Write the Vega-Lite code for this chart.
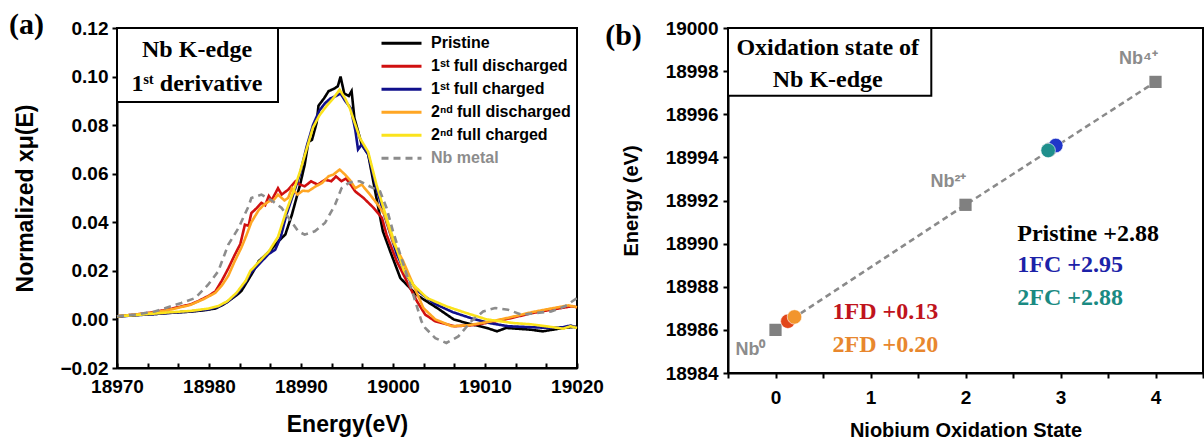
{
  "$schema": "https://vega.github.io/schema/vega-lite/v6.json",
  "background": "white",
  "autosize": {"type": "pad"},
  "padding": {"left": 7, "top": 9, "right": 0, "bottom": 0},
  "spacing": 151,
  "bounds": "flush",
  "resolve": {"scale": {"color": "independent", "strokeDash": "independent"}, "legend": {"color": "independent", "strokeDash": "independent"}},
  "config": {
    "view": {"stroke": "black", "strokeWidth": 2},
    "axis": {"grid": false, "domainColor": "black", "domainWidth": 2, "tickColor": "black", "tickWidth": 2, "tickSize": 5, "labelColor": "black", "titleColor": "black", "labelFont": "Liberation Sans", "labelFontWeight": "bold", "titleFont": "Liberation Sans", "titleFontWeight": "bold", "labelFlush": false, "labelOverlap": false}
  },
  "datasets": {
    "curves": [
      {"series": "Pristine", "energy": 18970, "mu": 0.0012},
      {"series": "Pristine", "energy": 18972, "mu": 0.0018},
      {"series": "Pristine", "energy": 18974, "mu": 0.0022},
      {"series": "Pristine", "energy": 18976, "mu": 0.0028},
      {"series": "Pristine", "energy": 18978, "mu": 0.0032},
      {"series": "Pristine", "energy": 18979.5, "mu": 0.0038},
      {"series": "Pristine", "energy": 18980.7, "mu": 0.0045},
      {"series": "Pristine", "energy": 18981.5, "mu": 0.006},
      {"series": "Pristine", "energy": 18982.1, "mu": 0.0075},
      {"series": "Pristine", "energy": 18983, "mu": 0.01},
      {"series": "Pristine", "energy": 18983.5, "mu": 0.0116},
      {"series": "Pristine", "energy": 18984.3, "mu": 0.0165},
      {"series": "Pristine", "energy": 18985, "mu": 0.021},
      {"series": "Pristine", "energy": 18985.4, "mu": 0.024},
      {"series": "Pristine", "energy": 18986, "mu": 0.026},
      {"series": "Pristine", "energy": 18986.8, "mu": 0.029},
      {"series": "Pristine", "energy": 18987.5, "mu": 0.032},
      {"series": "Pristine", "energy": 18988.3, "mu": 0.035},
      {"series": "Pristine", "energy": 18989.0, "mu": 0.043},
      {"series": "Pristine", "energy": 18989.9, "mu": 0.0555},
      {"series": "Pristine", "energy": 18990.4, "mu": 0.0637},
      {"series": "Pristine", "energy": 18990.8, "mu": 0.073},
      {"series": "Pristine", "energy": 18991.2, "mu": 0.074},
      {"series": "Pristine", "energy": 18991.7, "mu": 0.081},
      {"series": "Pristine", "energy": 18991.9, "mu": 0.088},
      {"series": "Pristine", "energy": 18992.5, "mu": 0.091},
      {"series": "Pristine", "energy": 18993.0, "mu": 0.094},
      {"series": "Pristine", "energy": 18993.6, "mu": 0.095},
      {"series": "Pristine", "energy": 18994.0, "mu": 0.096},
      {"series": "Pristine", "energy": 18994.3, "mu": 0.1},
      {"series": "Pristine", "energy": 18994.7, "mu": 0.093},
      {"series": "Pristine", "energy": 18995.2, "mu": 0.092},
      {"series": "Pristine", "energy": 18995.5, "mu": 0.094},
      {"series": "Pristine", "energy": 18995.8, "mu": 0.083},
      {"series": "Pristine", "energy": 18996.6, "mu": 0.072},
      {"series": "Pristine", "energy": 18997.3, "mu": 0.068},
      {"series": "Pristine", "energy": 18998.2, "mu": 0.05},
      {"series": "Pristine", "energy": 18998.9, "mu": 0.0363},
      {"series": "Pristine", "energy": 18999.7, "mu": 0.028},
      {"series": "Pristine", "energy": 19000.8, "mu": 0.017},
      {"series": "Pristine", "energy": 19002.6, "mu": 0.01},
      {"series": "Pristine", "energy": 19004.8, "mu": 0.0047},
      {"series": "Pristine", "energy": 19006.6, "mu": 0.0},
      {"series": "Pristine", "energy": 19008, "mu": -0.0015},
      {"series": "Pristine", "energy": 19010.2, "mu": -0.0035},
      {"series": "Pristine", "energy": 19011.3, "mu": -0.0049},
      {"series": "Pristine", "energy": 19012.3, "mu": -0.0035},
      {"series": "Pristine", "energy": 19014.9, "mu": -0.0042},
      {"series": "Pristine", "energy": 19016.3, "mu": -0.0049},
      {"series": "Pristine", "energy": 19018.5, "mu": -0.0035},
      {"series": "Pristine", "energy": 19020, "mu": -0.003},

      {"series": "1ˢᵗ full discharged", "energy": 18970, "mu": 0.0013},
      {"series": "1ˢᵗ full discharged", "energy": 18972, "mu": 0.002},
      {"series": "1ˢᵗ full discharged", "energy": 18974, "mu": 0.003},
      {"series": "1ˢᵗ full discharged", "energy": 18976, "mu": 0.0045},
      {"series": "1ˢᵗ full discharged", "energy": 18978, "mu": 0.0062},
      {"series": "1ˢᵗ full discharged", "energy": 18978.8, "mu": 0.0075},
      {"series": "1ˢᵗ full discharged", "energy": 18980, "mu": 0.0098},
      {"series": "1ˢᵗ full discharged", "energy": 18980.7, "mu": 0.0116},
      {"series": "1ˢᵗ full discharged", "energy": 18981.4, "mu": 0.016},
      {"series": "1ˢᵗ full discharged", "energy": 18982.1, "mu": 0.021},
      {"series": "1ˢᵗ full discharged", "energy": 18982.8, "mu": 0.0266},
      {"series": "1ˢᵗ full discharged", "energy": 18983.4, "mu": 0.031},
      {"series": "1ˢᵗ full discharged", "energy": 18983.9, "mu": 0.039},
      {"series": "1ˢᵗ full discharged", "energy": 18984.3, "mu": 0.0385},
      {"series": "1ˢᵗ full discharged", "energy": 18984.6, "mu": 0.0438},
      {"series": "1ˢᵗ full discharged", "energy": 18985.2, "mu": 0.0459},
      {"series": "1ˢᵗ full discharged", "energy": 18985.7, "mu": 0.048},
      {"series": "1ˢᵗ full discharged", "energy": 18986.1, "mu": 0.047},
      {"series": "1ˢᵗ full discharged", "energy": 18986.5, "mu": 0.0508},
      {"series": "1ˢᵗ full discharged", "energy": 18986.8, "mu": 0.049},
      {"series": "1ˢᵗ full discharged", "energy": 18987.5, "mu": 0.054},
      {"series": "1ˢᵗ full discharged", "energy": 18987.9, "mu": 0.0514},
      {"series": "1ˢᵗ full discharged", "energy": 18988.6, "mu": 0.0534},
      {"series": "1ˢᵗ full discharged", "energy": 18989.4, "mu": 0.0569},
      {"series": "1ˢᵗ full discharged", "energy": 18989.9, "mu": 0.0555},
      {"series": "1ˢᵗ full discharged", "energy": 18990.4, "mu": 0.0548},
      {"series": "1ˢᵗ full discharged", "energy": 18991.1, "mu": 0.0569},
      {"series": "1ˢᵗ full discharged", "energy": 18991.8, "mu": 0.0555},
      {"series": "1ˢᵗ full discharged", "energy": 18992.6, "mu": 0.0575},
      {"series": "1ˢᵗ full discharged", "energy": 18993.3, "mu": 0.0569},
      {"series": "1ˢᵗ full discharged", "energy": 18993.8, "mu": 0.0589},
      {"series": "1ˢᵗ full discharged", "energy": 18994.4, "mu": 0.0569},
      {"series": "1ˢᵗ full discharged", "energy": 18994.9, "mu": 0.058},
      {"series": "1ˢᵗ full discharged", "energy": 18995.4, "mu": 0.0555},
      {"series": "1ˢᵗ full discharged", "energy": 18995.9, "mu": 0.0527},
      {"series": "1ˢᵗ full discharged", "energy": 18996.8, "mu": 0.05},
      {"series": "1ˢᵗ full discharged", "energy": 18997.9, "mu": 0.0459},
      {"series": "1ˢᵗ full discharged", "energy": 18998.8, "mu": 0.0418},
      {"series": "1ˢᵗ full discharged", "energy": 18999.3, "mu": 0.0349},
      {"series": "1ˢᵗ full discharged", "energy": 19000.4, "mu": 0.024},
      {"series": "1ˢᵗ full discharged", "energy": 19001.5, "mu": 0.0157},
      {"series": "1ˢᵗ full discharged", "energy": 19002.6, "mu": 0.0075},
      {"series": "1ˢᵗ full discharged", "energy": 19003.5, "mu": 0.002},
      {"series": "1ˢᵗ full discharged", "energy": 19004.6, "mu": -0.0008},
      {"series": "1ˢᵗ full discharged", "energy": 19006.7, "mu": -0.0028},
      {"series": "1ˢᵗ full discharged", "energy": 19008.6, "mu": -0.0024},
      {"series": "1ˢᵗ full discharged", "energy": 19010.7, "mu": -0.0011},
      {"series": "1ˢᵗ full discharged", "energy": 19012.9, "mu": 0.0006},
      {"series": "1ˢᵗ full discharged", "energy": 19015.1, "mu": 0.0026},
      {"series": "1ˢᵗ full discharged", "energy": 19017.2, "mu": 0.004},
      {"series": "1ˢᵗ full discharged", "energy": 19019.4, "mu": 0.0054},
      {"series": "1ˢᵗ full discharged", "energy": 19020, "mu": 0.005},

      {"series": "1ˢᵗ full charged", "energy": 18970, "mu": 0.0012},
      {"series": "1ˢᵗ full charged", "energy": 18974, "mu": 0.0022},
      {"series": "1ˢᵗ full charged", "energy": 18978, "mu": 0.0033},
      {"series": "1ˢᵗ full charged", "energy": 18980, "mu": 0.0042},
      {"series": "1ˢᵗ full charged", "energy": 18981, "mu": 0.0052},
      {"series": "1ˢᵗ full charged", "energy": 18982, "mu": 0.0072},
      {"series": "1ˢᵗ full charged", "energy": 18983, "mu": 0.0105},
      {"series": "1ˢᵗ full charged", "energy": 18984, "mu": 0.0155},
      {"series": "1ˢᵗ full charged", "energy": 18984.5, "mu": 0.019},
      {"series": "1ˢᵗ full charged", "energy": 18985.5, "mu": 0.023},
      {"series": "1ˢᵗ full charged", "energy": 18986.5, "mu": 0.027},
      {"series": "1ˢᵗ full charged", "energy": 18987.2, "mu": 0.0287},
      {"series": "1ˢᵗ full charged", "energy": 18987.8, "mu": 0.034},
      {"series": "1ˢᵗ full charged", "energy": 18988.4, "mu": 0.043},
      {"series": "1ˢᵗ full charged", "energy": 18989.2, "mu": 0.052},
      {"series": "1ˢᵗ full charged", "energy": 18989.9, "mu": 0.06},
      {"series": "1ˢᵗ full charged", "energy": 18990.6, "mu": 0.071},
      {"series": "1ˢᵗ full charged", "energy": 18991.3, "mu": 0.08},
      {"series": "1ˢᵗ full charged", "energy": 18992, "mu": 0.086},
      {"series": "1ˢᵗ full charged", "energy": 18992.6, "mu": 0.089},
      {"series": "1ˢᵗ full charged", "energy": 18993.2, "mu": 0.091},
      {"series": "1ˢᵗ full charged", "energy": 18993.8, "mu": 0.092},
      {"series": "1ˢᵗ full charged", "energy": 18994.3, "mu": 0.093},
      {"series": "1ˢᵗ full charged", "energy": 18994.8, "mu": 0.09},
      {"series": "1ˢᵗ full charged", "energy": 18995.4, "mu": 0.087},
      {"series": "1ˢᵗ full charged", "energy": 18995.9, "mu": 0.078},
      {"series": "1ˢᵗ full charged", "energy": 18996.2, "mu": 0.07},
      {"series": "1ˢᵗ full charged", "energy": 18996.6, "mu": 0.072},
      {"series": "1ˢᵗ full charged", "energy": 18997.3, "mu": 0.068},
      {"series": "1ˢᵗ full charged", "energy": 18998.2, "mu": 0.054},
      {"series": "1ˢᵗ full charged", "energy": 18999.3, "mu": 0.04},
      {"series": "1ˢᵗ full charged", "energy": 19000.4, "mu": 0.027},
      {"series": "1ˢᵗ full charged", "energy": 19001.5, "mu": 0.018},
      {"series": "1ˢᵗ full charged", "energy": 19002.6, "mu": 0.012},
      {"series": "1ˢᵗ full charged", "energy": 19004.5, "mu": 0.0065},
      {"series": "1ˢᵗ full charged", "energy": 19006.5, "mu": 0.003},
      {"series": "1ˢᵗ full charged", "energy": 19008.5, "mu": 0.0005},
      {"series": "1ˢᵗ full charged", "energy": 19010.5, "mu": -0.0015},
      {"series": "1ˢᵗ full charged", "energy": 19012.5, "mu": -0.0028},
      {"series": "1ˢᵗ full charged", "energy": 19015, "mu": -0.0032},
      {"series": "1ˢᵗ full charged", "energy": 19017, "mu": -0.0035},
      {"series": "1ˢᵗ full charged", "energy": 19018.5, "mu": -0.0032},
      {"series": "1ˢᵗ full charged", "energy": 19019.3, "mu": -0.0025},
      {"series": "1ˢᵗ full charged", "energy": 19020, "mu": -0.0035},

      {"series": "2ⁿᵈ full discharged", "energy": 18970, "mu": 0.0013},
      {"series": "2ⁿᵈ full discharged", "energy": 18972, "mu": 0.002},
      {"series": "2ⁿᵈ full discharged", "energy": 18974, "mu": 0.0028},
      {"series": "2ⁿᵈ full discharged", "energy": 18976, "mu": 0.0042},
      {"series": "2ⁿᵈ full discharged", "energy": 18978, "mu": 0.006},
      {"series": "2ⁿᵈ full discharged", "energy": 18979.5, "mu": 0.0085},
      {"series": "2ⁿᵈ full discharged", "energy": 18980.7, "mu": 0.011},
      {"series": "2ⁿᵈ full discharged", "energy": 18981.4, "mu": 0.014},
      {"series": "2ⁿᵈ full discharged", "energy": 18982.1, "mu": 0.018},
      {"series": "2ⁿᵈ full discharged", "energy": 18982.8, "mu": 0.024},
      {"series": "2ⁿᵈ full discharged", "energy": 18983.5, "mu": 0.0294},
      {"series": "2ⁿᵈ full discharged", "energy": 18984, "mu": 0.034},
      {"series": "2ⁿᵈ full discharged", "energy": 18984.6, "mu": 0.04},
      {"series": "2ⁿᵈ full discharged", "energy": 18985.4, "mu": 0.045},
      {"series": "2ⁿᵈ full discharged", "energy": 18985.9, "mu": 0.047},
      {"series": "2ⁿᵈ full discharged", "energy": 18986.5, "mu": 0.0486},
      {"series": "2ⁿᵈ full discharged", "energy": 18987.0, "mu": 0.049},
      {"series": "2ⁿᵈ full discharged", "energy": 18987.5, "mu": 0.0514},
      {"series": "2ⁿᵈ full discharged", "energy": 18988.2, "mu": 0.049},
      {"series": "2ⁿᵈ full discharged", "energy": 18988.6, "mu": 0.05},
      {"series": "2ⁿᵈ full discharged", "energy": 18989.0, "mu": 0.054},
      {"series": "2ⁿᵈ full discharged", "energy": 18989.6, "mu": 0.0514},
      {"series": "2ⁿᵈ full discharged", "energy": 18990.2, "mu": 0.053},
      {"series": "2ⁿᵈ full discharged", "energy": 18990.8, "mu": 0.0528},
      {"series": "2ⁿᵈ full discharged", "energy": 18991.6, "mu": 0.0548},
      {"series": "2ⁿᵈ full discharged", "energy": 18992.3, "mu": 0.0562},
      {"series": "2ⁿᵈ full discharged", "energy": 18993.0, "mu": 0.059},
      {"series": "2ⁿᵈ full discharged", "energy": 18993.5, "mu": 0.0596},
      {"series": "2ⁿᵈ full discharged", "energy": 18994.2, "mu": 0.0617},
      {"series": "2ⁿᵈ full discharged", "energy": 18994.8, "mu": 0.0596},
      {"series": "2ⁿᵈ full discharged", "energy": 18995.3, "mu": 0.0575},
      {"series": "2ⁿᵈ full discharged", "energy": 18995.9, "mu": 0.054},
      {"series": "2ⁿᵈ full discharged", "energy": 18996.6, "mu": 0.0555},
      {"series": "2ⁿᵈ full discharged", "energy": 18997.5, "mu": 0.0514},
      {"series": "2ⁿᵈ full discharged", "energy": 18998.4, "mu": 0.047},
      {"series": "2ⁿᵈ full discharged", "energy": 18999.1, "mu": 0.043},
      {"series": "2ⁿᵈ full discharged", "energy": 19000.0, "mu": 0.032},
      {"series": "2ⁿᵈ full discharged", "energy": 19001.1, "mu": 0.024},
      {"series": "2ⁿᵈ full discharged", "energy": 19002.2, "mu": 0.0143},
      {"series": "2ⁿᵈ full discharged", "energy": 19003.3, "mu": 0.0047},
      {"series": "2ⁿᵈ full discharged", "energy": 19004.6, "mu": 0.0},
      {"series": "2ⁿᵈ full discharged", "energy": 19006.4, "mu": -0.0028},
      {"series": "2ⁿᵈ full discharged", "energy": 19008.2, "mu": -0.0024},
      {"series": "2ⁿᵈ full discharged", "energy": 19010.7, "mu": -0.0008},
      {"series": "2ⁿᵈ full discharged", "energy": 19012.9, "mu": 0.001},
      {"series": "2ⁿᵈ full discharged", "energy": 19015.1, "mu": 0.003},
      {"series": "2ⁿᵈ full discharged", "energy": 19017.2, "mu": 0.0045},
      {"series": "2ⁿᵈ full discharged", "energy": 19019.1, "mu": 0.0058},
      {"series": "2ⁿᵈ full discharged", "energy": 19020, "mu": 0.005},

      {"series": "2ⁿᵈ full charged", "energy": 18970, "mu": 0.0013},
      {"series": "2ⁿᵈ full charged", "energy": 18972, "mu": 0.0018},
      {"series": "2ⁿᵈ full charged", "energy": 18974, "mu": 0.0024},
      {"series": "2ⁿᵈ full charged", "energy": 18976, "mu": 0.003},
      {"series": "2ⁿᵈ full charged", "energy": 18978, "mu": 0.0035},
      {"series": "2ⁿᵈ full charged", "energy": 18980, "mu": 0.0045},
      {"series": "2ⁿᵈ full charged", "energy": 18981, "mu": 0.0055},
      {"series": "2ⁿᵈ full charged", "energy": 18982, "mu": 0.0075},
      {"series": "2ⁿᵈ full charged", "energy": 18983, "mu": 0.011},
      {"series": "2ⁿᵈ full charged", "energy": 18984, "mu": 0.016},
      {"series": "2ⁿᵈ full charged", "energy": 18984.5, "mu": 0.02},
      {"series": "2ⁿᵈ full charged", "energy": 18985.5, "mu": 0.024},
      {"series": "2ⁿᵈ full charged", "energy": 18986.5, "mu": 0.028},
      {"series": "2ⁿᵈ full charged", "energy": 18987.5, "mu": 0.034},
      {"series": "2ⁿᵈ full charged", "energy": 18988.4, "mu": 0.0446},
      {"series": "2ⁿᵈ full charged", "energy": 18989.2, "mu": 0.053},
      {"series": "2ⁿᵈ full charged", "energy": 18989.9, "mu": 0.061},
      {"series": "2ⁿᵈ full charged", "energy": 18990.6, "mu": 0.07},
      {"series": "2ⁿᵈ full charged", "energy": 18991.3, "mu": 0.079},
      {"series": "2ⁿᵈ full charged", "energy": 18992, "mu": 0.084},
      {"series": "2ⁿᵈ full charged", "energy": 18992.8, "mu": 0.088},
      {"series": "2ⁿᵈ full charged", "energy": 18993.5, "mu": 0.091},
      {"series": "2ⁿᵈ full charged", "energy": 18994.2, "mu": 0.0946},
      {"series": "2ⁿᵈ full charged", "energy": 18994.8, "mu": 0.091},
      {"series": "2ⁿᵈ full charged", "energy": 18995.3, "mu": 0.087},
      {"series": "2ⁿᵈ full charged", "energy": 18996.4, "mu": 0.0747},
      {"series": "2ⁿᵈ full charged", "energy": 18997.3, "mu": 0.069},
      {"series": "2ⁿᵈ full charged", "energy": 18998.2, "mu": 0.0555},
      {"series": "2ⁿᵈ full charged", "energy": 18999.3, "mu": 0.0418},
      {"series": "2ⁿᵈ full charged", "energy": 19000.4, "mu": 0.029},
      {"series": "2ⁿᵈ full charged", "energy": 19001.2, "mu": 0.02},
      {"series": "2ⁿᵈ full charged", "energy": 19002.2, "mu": 0.0143},
      {"series": "2ⁿᵈ full charged", "energy": 19003.7, "mu": 0.0088},
      {"series": "2ⁿᵈ full charged", "energy": 19005.8, "mu": 0.0054},
      {"series": "2ⁿᵈ full charged", "energy": 19008, "mu": 0.0026},
      {"series": "2ⁿᵈ full charged", "energy": 19010.2, "mu": 0.0},
      {"series": "2ⁿᵈ full charged", "energy": 19013.1, "mu": -0.0015},
      {"series": "2ⁿᵈ full charged", "energy": 19015, "mu": -0.002},
      {"series": "2ⁿᵈ full charged", "energy": 19017, "mu": -0.003},
      {"series": "2ⁿᵈ full charged", "energy": 19018.5, "mu": -0.0038},
      {"series": "2ⁿᵈ full charged", "energy": 19019.3, "mu": -0.0028},
      {"series": "2ⁿᵈ full charged", "energy": 19020, "mu": -0.0035},

      {"series": "Nb metal", "energy": 18970, "mu": 0.0013},
      {"series": "Nb metal", "energy": 18972, "mu": 0.002},
      {"series": "Nb metal", "energy": 18974.1, "mu": 0.0033},
      {"series": "Nb metal", "energy": 18977.0, "mu": 0.0068},
      {"series": "Nb metal", "energy": 18978.5, "mu": 0.0088},
      {"series": "Nb metal", "energy": 18979.9, "mu": 0.0143},
      {"series": "Nb metal", "energy": 18981.0, "mu": 0.0198},
      {"series": "Nb metal", "energy": 18982.1, "mu": 0.0308},
      {"series": "Nb metal", "energy": 18983.2, "mu": 0.0376},
      {"series": "Nb metal", "energy": 18984.3, "mu": 0.0466},
      {"series": "Nb metal", "energy": 18984.6, "mu": 0.05},
      {"series": "Nb metal", "energy": 18985.7, "mu": 0.0514},
      {"series": "Nb metal", "energy": 18986.8, "mu": 0.049},
      {"series": "Nb metal", "energy": 18987.9, "mu": 0.0459},
      {"series": "Nb metal", "energy": 18989.0, "mu": 0.04},
      {"series": "Nb metal", "energy": 18989.7, "mu": 0.0363},
      {"series": "Nb metal", "energy": 18990.4, "mu": 0.0349},
      {"series": "Nb metal", "energy": 18991.5, "mu": 0.0363},
      {"series": "Nb metal", "energy": 18992.6, "mu": 0.0397},
      {"series": "Nb metal", "energy": 18993.7, "mu": 0.0472},
      {"series": "Nb metal", "energy": 18994.4, "mu": 0.054},
      {"series": "Nb metal", "energy": 18995.1, "mu": 0.056},
      {"series": "Nb metal", "energy": 18995.8, "mu": 0.0569},
      {"series": "Nb metal", "energy": 18996.4, "mu": 0.0569},
      {"series": "Nb metal", "energy": 18997.1, "mu": 0.0555},
      {"series": "Nb metal", "energy": 18998.6, "mu": 0.0527},
      {"series": "Nb metal", "energy": 18999.3, "mu": 0.0459},
      {"series": "Nb metal", "energy": 19000.0, "mu": 0.0363},
      {"series": "Nb metal", "energy": 19000.8, "mu": 0.0266},
      {"series": "Nb metal", "energy": 19001.5, "mu": 0.0184},
      {"series": "Nb metal", "energy": 19002.2, "mu": 0.0102},
      {"series": "Nb metal", "energy": 19003.1, "mu": -0.0008},
      {"series": "Nb metal", "energy": 19003.5, "mu": -0.0035},
      {"series": "Nb metal", "energy": 19004.6, "mu": -0.0077},
      {"series": "Nb metal", "energy": 19005.8, "mu": -0.0097},
      {"series": "Nb metal", "energy": 19007.1, "mu": -0.007},
      {"series": "Nb metal", "energy": 19008.5, "mu": -0.0008},
      {"series": "Nb metal", "energy": 19009.8, "mu": 0.0033},
      {"series": "Nb metal", "energy": 19011.1, "mu": 0.0047},
      {"series": "Nb metal", "energy": 19012.5, "mu": 0.004},
      {"series": "Nb metal", "energy": 19014.0, "mu": 0.0019},
      {"series": "Nb metal", "energy": 19015.4, "mu": 0.0026},
      {"series": "Nb metal", "energy": 19017.2, "mu": 0.0033},
      {"series": "Nb metal", "energy": 19018.7, "mu": 0.0054},
      {"series": "Nb metal", "energy": 19020, "mu": 0.0088}
    ]
  },
  "hconcat": [
    {
      "width": 460,
      "height": 340,
      "title": {"text": "(a)", "anchor": "start", "frame": "bounds", "font": "Liberation Serif", "fontSize": 30, "fontWeight": "bold", "color": "black", "offset": 0, "dx": -6, "dy": 21},
      "resolve": {"axis": {"x": "independent"}},
      "layer": [
        {
          "data": {"name": "curves"},
          "mark": {"type": "line", "strokeWidth": 2.6},
          "encoding": {
            "x": {"field": "energy", "type": "quantitative", "scale": {"domain": [18970, 19020], "nice": false, "zero": false},
                  "axis": {"orient": "bottom", "title": "Energy(eV)", "titleFontSize": 23, "titlePadding": 17, "labelFontSize": 19, "labelPadding": 14, "labelOverlap": false, "labelFlush": false,
                           "tickSize": -5, "values": [18970, 18980, 18990, 19000, 19010, 19020], "format": "d"}},
            "y": {"field": "mu", "type": "quantitative", "scale": {"domain": [-0.02, 0.12], "nice": false, "zero": false},
                  "axis": {"title": "Normalized xμ(E)", "titleFontSize": 23, "titlePadding": 22, "labelFontSize": 19, "labelPadding": 4, "labelOverlap": false,
                           "values": [-0.02, -0.01, 0, 0.01, 0.02, 0.03, 0.04, 0.05, 0.06, 0.07, 0.08, 0.09, 0.1, 0.11, 0.12],
                           "labelExpr": "abs(round(datum.value * 100)) % 2 === 0 ? format(datum.value, '.2f') : ''"}},
            "color": {"field": "series", "type": "nominal",
                      "scale": {"domain": ["Pristine", "1ˢᵗ full discharged", "1ˢᵗ full charged", "2ⁿᵈ full discharged", "2ⁿᵈ full charged", "Nb metal"],
                                "range": ["#000000", "#d01010", "#10108c", "#ffa624", "#fbe31c", "#8c8c8c"]},
                      "legend": {"orient": "none", "legendX": 263, "legendY": 4, "title": null, "padding": 0,
                                 "symbolType": "stroke", "symbolSize": 1600, "symbolStrokeWidth": 3, "clipHeight": 22.7,
                                 "labelFont": "Liberation Sans", "labelFontSize": 16, "labelFontWeight": "bold", "labelColor": "black",
                                 "labelOffset": 8, "labelLimit": 300, "rowPadding": 0,
                                 "encode": {"labels": {"update": {"fill": {"signal": "datum.label === 'Nb metal' ? '#8c8c8c' : '#000000'"}}}}}},
            "strokeDash": {"field": "series", "type": "nominal",
                           "scale": {"domain": ["Pristine", "1ˢᵗ full discharged", "1ˢᵗ full charged", "2ⁿᵈ full discharged", "2ⁿᵈ full charged", "Nb metal"],
                                     "range": [[1, 0], [1, 0], [1, 0], [1, 0], [1, 0], [7, 5]]}}
          }
        },
        {
          "data": {"name": "curves"},
          "mark": {"type": "point", "opacity": 0, "size": 1},
          "encoding": {
            "x": {"field": "energy", "type": "quantitative",
                  "axis": {"orient": "bottom", "title": null, "labels": false, "domain": false, "tickSize": -5,
                           "values": [18973.333, 18976.667, 18983.333, 18986.667, 18993.333, 18996.667, 19003.333, 19006.667, 19013.333, 19016.667]}},
            "y": {"field": "mu", "type": "quantitative"}
          }
        },
        {
          "data": {"values": [{}]},
          "mark": {"type": "rect", "fill": "white", "stroke": "black", "strokeWidth": 2},
          "encoding": {
            "x": {"datum": 18970, "type": "quantitative", "axis": null},
            "x2": {"datum": 18987.5},
            "y": {"datum": 0.12, "type": "quantitative"}, "y2": {"datum": 0.0895}
          }
        },
        {
          "data": {"values": [{}]},
          "mark": {"type": "text", "font": "Liberation Serif", "fontSize": 24, "fontWeight": "bold", "color": "black", "align": "center", "baseline": "middle"},
          "encoding": {"x": {"datum": 18978.7, "type": "quantitative", "axis": null}, "y": {"datum": 0.1109, "type": "quantitative"}, "text": {"value": "Nb K-edge"}}
        },
        {
          "data": {"values": [{}]},
          "mark": {"type": "text", "font": "Liberation Serif", "fontSize": 24, "fontWeight": "bold", "color": "black", "align": "center", "baseline": "middle"},
          "encoding": {"x": {"datum": 18978.7, "type": "quantitative", "axis": null}, "y": {"datum": 0.0969, "type": "quantitative"}, "text": {"value": "1ˢᵗ derivative"}}
        }
      ]
    },
    {
      "width": 475,
      "height": 345,
      "title": {"text": "(b)", "anchor": "start", "frame": "bounds", "font": "Liberation Serif", "fontSize": 30, "fontWeight": "bold", "color": "black", "offset": 0, "dx": -16, "dy": 32},
      "layer": [
        {
          "data": {"name": "ref", "values": [
            {"ion": "Nb⁰", "state": 0, "energy": 18986.0},
            {"ion": "Nb²⁺", "state": 2, "energy": 18991.8},
            {"ion": "Nb⁴⁺", "state": 4, "energy": 18997.5}
          ]},
          "mark": {"type": "line", "color": "#8a8a8a", "strokeWidth": 2.5, "strokeDash": [6, 4]},
          "encoding": {
            "x": {"field": "state", "type": "quantitative", "scale": {"domain": [-0.5, 4.5], "nice": false, "zero": false},
                  "axis": {"title": "Niobium Oxidation State", "titleFontSize": 20, "titlePadding": 13, "labelFontSize": 19, "labelPadding": 10, "labelOverlap": false,
                           "values": [-0.5, 0, 0.5, 1, 1.5, 2, 2.5, 3, 3.5, 4, 4.5],
                           "labelExpr": "datum.value % 1 === 0 ? format(datum.value, 'd') : ''"}},
            "y": {"field": "energy", "type": "quantitative", "scale": {"domain": [18984, 19000], "nice": false, "zero": false},
                  "axis": {"title": "Energy (eV)", "titleFontSize": 20, "titlePadding": 24, "labelFontSize": 19, "labelPadding": 5, "labelOverlap": false,
                           "values": [18984, 18985, 18986, 18987, 18988, 18989, 18990, 18991, 18992, 18993, 18994, 18995, 18996, 18997, 18998, 18999, 19000],
                           "labelExpr": "datum.value % 2 === 0 ? format(datum.value, 'd') : ''"}}
          }
        },
        {
          "data": {"name": "ref"},
          "mark": {"type": "square", "size": 150, "color": "#808080", "opacity": 1, "filled": true},
          "encoding": {"x": {"field": "state", "type": "quantitative"}, "y": {"field": "energy", "type": "quantitative"}}
        },
        {
          "data": {"name": "ref"},
          "transform": [{"filter": "datum.state === 0"}],
          "mark": {"type": "text", "font": "Liberation Sans", "fontSize": 18, "fontWeight": "bold", "color": "#8c8c8c", "dx": -25, "dy": 20},
          "encoding": {"x": {"field": "state", "type": "quantitative"}, "y": {"field": "energy", "type": "quantitative"}, "text": {"field": "ion"}}
        },
        {
          "data": {"name": "ref"},
          "transform": [{"filter": "datum.state > 0"}],
          "mark": {"type": "text", "font": "Liberation Sans", "fontSize": 18, "fontWeight": "bold", "color": "#8c8c8c", "dx": -17, "dy": -23},
          "encoding": {"x": {"field": "state", "type": "quantitative"}, "y": {"field": "energy", "type": "quantitative"}, "text": {"field": "ion"}}
        },
        {
          "data": {"values": [
            {"sample": "Pristine", "state": 2.88, "energy": 18994.35},
            {"sample": "1FC", "state": 2.95, "energy": 18994.55},
            {"sample": "2FC", "state": 2.87, "energy": 18994.32},
            {"sample": "1FD", "state": 0.13, "energy": 18986.4},
            {"sample": "2FD", "state": 0.2, "energy": 18986.6}
          ]},
          "mark": {"type": "circle", "size": 210, "opacity": 1, "stroke": "white", "strokeWidth": 0.6},
          "encoding": {
            "x": {"field": "state", "type": "quantitative"},
            "y": {"field": "energy", "type": "quantitative"},
            "color": {"field": "sample", "type": "nominal", "legend": null,
                      "scale": {"domain": ["Pristine", "1FC", "2FC", "1FD", "2FD"], "range": ["#202020", "#1f35c8", "#1f8f8c", "#e2461a", "#f2952c"]}}
          }
        },
        {
          "data": {"values": [{}]},
          "mark": {"type": "rect", "fill": "white", "stroke": "black", "strokeWidth": 2},
          "encoding": {
            "x": {"datum": -0.5, "type": "quantitative"}, "x2": {"datum": 1.64},
            "y": {"datum": 19000, "type": "quantitative"}, "y2": {"datum": 18996.86}
          }
        },
        {
          "data": {"values": [{}]},
          "mark": {"type": "text", "font": "Liberation Serif", "fontSize": 24, "fontWeight": "bold", "color": "black", "align": "center", "baseline": "middle"},
          "encoding": {"x": {"datum": 0.55, "type": "quantitative"}, "y": {"datum": 18999.09, "type": "quantitative"}, "text": {"value": "Oxidation state of"}}
        },
        {
          "data": {"values": [{}]},
          "mark": {"type": "text", "font": "Liberation Serif", "fontSize": 24, "fontWeight": "bold", "color": "black", "align": "center", "baseline": "middle"},
          "encoding": {"x": {"datum": 0.55, "type": "quantitative"}, "y": {"datum": 18997.59, "type": "quantitative"}, "text": {"value": "Nb K-edge"}}
        },
        {
          "data": {"values": [{}]},
          "mark": {"type": "text", "font": "Liberation Serif", "fontSize": 24, "fontWeight": "bold", "color": "#c0141c", "align": "left", "baseline": "middle"},
          "encoding": {"x": {"datum": 0.6, "type": "quantitative"}, "y": {"datum": 18986.82, "type": "quantitative"}, "text": {"value": "1FD +0.13"}}
        },
        {
          "data": {"values": [{}]},
          "mark": {"type": "text", "font": "Liberation Serif", "fontSize": 24, "fontWeight": "bold", "color": "#e8872e", "align": "left", "baseline": "middle"},
          "encoding": {"x": {"datum": 0.6, "type": "quantitative"}, "y": {"datum": 18985.32, "type": "quantitative"}, "text": {"value": "2FD +0.20"}}
        },
        {
          "data": {"values": [{}]},
          "mark": {"type": "text", "font": "Liberation Serif", "fontSize": 24, "fontWeight": "bold", "color": "#000000", "align": "left", "baseline": "middle"},
          "encoding": {"x": {"datum": 2.545, "type": "quantitative"}, "y": {"datum": 18990.45, "type": "quantitative"}, "text": {"value": "Pristine +2.88"}}
        },
        {
          "data": {"values": [{}]},
          "mark": {"type": "text", "font": "Liberation Serif", "fontSize": 24, "fontWeight": "bold", "color": "#1c22a8", "align": "left", "baseline": "middle"},
          "encoding": {"x": {"datum": 2.545, "type": "quantitative"}, "y": {"datum": 18989.0, "type": "quantitative"}, "text": {"value": "1FC +2.95"}}
        },
        {
          "data": {"values": [{}]},
          "mark": {"type": "text", "font": "Liberation Serif", "fontSize": 24, "fontWeight": "bold", "color": "#1a8a82", "align": "left", "baseline": "middle"},
          "encoding": {"x": {"datum": 2.545, "type": "quantitative"}, "y": {"datum": 18987.5, "type": "quantitative"}, "text": {"value": "2FC +2.88"}}
        }
      ]
    }
  ]
}
